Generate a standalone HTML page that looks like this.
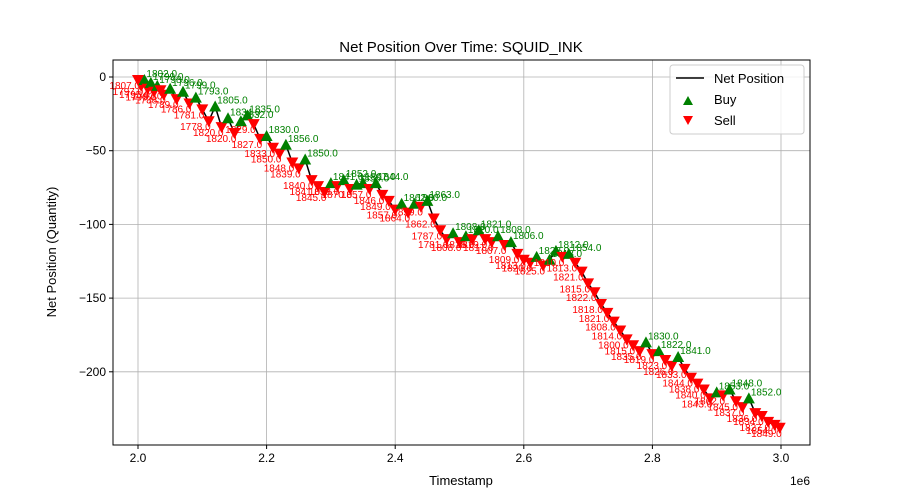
<!DOCTYPE html>
<html><head><meta charset="utf-8"><style>
body{margin:0;background:#fff;}
svg{display:block;font-family:"Liberation Sans","DejaVu Sans",sans-serif;}
</style></head><body>
<svg id="chart" width="900" height="500"></svg>
<script>
const times=[2.000,2.005,2.010,2.015,2.020,2.025,2.030,2.035,2.040,2.050,2.060,2.070,2.080,2.090,2.100,2.110,2.120,2.130,2.140,2.150,2.160,2.170,2.180,2.190,2.200,2.210,2.220,2.230,2.240,2.250,2.260,2.270,2.280,2.290,2.300,2.310,2.320,2.330,2.340,2.350,2.360,2.370,2.380,2.390,2.400,2.410,2.420,2.430,2.440,2.450,2.460,2.470,2.480,2.490,2.500,2.510,2.520,2.530,2.540,2.550,2.560,2.570,2.580,2.590,2.600,2.610,2.620,2.630,2.640,2.650,2.660,2.670,2.680,2.690,2.700,2.710,2.720,2.730,2.740,2.750,2.760,2.770,2.780,2.790,2.800,2.810,2.820,2.830,2.840,2.850,2.860,2.870,2.880,2.890,2.900,2.910,2.920,2.930,2.940,2.950,2.960,2.970,2.980,2.990,2.998];
const positions=[-2,-6,-2,-8,-4,-10,-6,-9,-12,-8,-15,-10,-18,-14,-22,-30,-20,-34,-28,-38,-30,-26,-32,-42,-40,-48,-52,-46,-58,-62,-56,-70,-74,-78,-72,-74,-70,-76,-73,-72,-76,-72,-80,-84,-90,-86,-92,-86,-88,-84,-96,-104,-110,-106,-112,-108,-110,-104,-110,-112,-108,-114,-112,-120,-124,-126,-122,-128,-124,-118,-122,-120,-126,-132,-140,-146,-154,-160,-166,-172,-178,-182,-186,-180,-188,-186,-192,-196,-190,-198,-204,-208,-212,-218,-214,-216,-212,-220,-224,-218,-228,-230,-234,-236,-238];
const prices=["1807.0","1797.0","1802.0","1795.0","1799.0","1790.0","1798.0","1792.0","1788.0","1796.0","1789.0","1799.0","1786.0","1793.0","1781.0","1778.0","1805.0","1820.0","1834.0","1820.0","1832.0","1835.0","1829.0","1827.0","1830.0","1833.0","1850.0","1856.0","1848.0","1839.0","1850.0","1840.0","1841.0","1845.0","1841.0","1853.0","1852.0","1870.0","1855.0","1867.0","1857.0","1844.0","1846.0","1849.0","1857.0","1862.0","1864.0","1860.0","1859.0","1863.0","1862.0","1787.0","1781.0","1808.0","1808.0","1820.0","1818.0","1821.0","1819.0","1817.0","1808.0","1807.0","1806.0","1809.0","1813.0","1820.0","1822.0","1825.0","1818.0","1812.0","1810.0","1854.0","1813.0","1821.0","1815.0","1822.0","1818.0","1821.0","1808.0","1814.0","1800.0","1815.0","1835.0","1830.0","1819.0","1822.0","1823.0","1826.0","1841.0","1833.0","1844.0","1838.0","1840.0","1843.0","1853.0","1862.0","1848.0","1845.0","1837.0","1852.0","1836.0","1834.0","1827.0","1854.0","1849.0"];
const xTicks=[2.0,2.2,2.4,2.6,2.8,3.0];
const xTickLabels=["2.0","2.2","2.4","2.6","2.8","3.0"];
const yTicks=[0,-50,-100,-150,-200];
const yTickLabels=["0","\u221250","\u2212100","\u2212150","\u2212200"];

const svg=document.getElementById('chart');
const NS='http://www.w3.org/2000/svg';
const L=113,R=810,T=60,B=445;
function xs(v){return 138+(v-2.0)*643;}
function ys(v){return 77-v*1.474;}
function mk(tag,attrs,parent){const e=document.createElementNS(NS,tag);for(const k in attrs)e.setAttribute(k,attrs[k]);(parent||svg).appendChild(e);return e;}

let t=mk('text',{x:461,y:52,'text-anchor':'middle','font-size':15});
t.textContent='Net Position Over Time: SQUID_INK';



const grid=mk('g',{});


xTicks.forEach((v,i)=>{
  const x=xs(v);
  mk('line',{x1:x,x2:x,y1:T,y2:B,stroke:'#b0b0b0','stroke-width':0.8},grid);
  mk('line',{x1:x,x2:x,y1:B,y2:B+4,stroke:'#000'});
  const tx=mk('text',{x:x,y:B+17,'text-anchor':'middle','font-size':12});
  tx.textContent=xTickLabels[i];
  
  
});
yTicks.forEach((v,i)=>{
  const y=ys(v);
  mk('line',{x1:L,x2:R,y1:y,y2:y,stroke:'#b0b0b0','stroke-width':0.8},grid);
  mk('line',{x1:L-4,x2:L,y1:y,y2:y,stroke:'#000'});
  const tx=mk('text',{x:L-7,y:y+4,'text-anchor':'end','font-size':12});
  tx.textContent=yTickLabels[i];
  
  
});

let d='';
times.forEach((tv,i)=>{d+=(i?'L':'M')+xs(tv).toFixed(1)+','+ys(positions[i]).toFixed(1);});
const line=mk('path',{d:d,fill:'none',stroke:'#000','stroke-width':1.5});



const marks=mk('g',{});


times.forEach((tv,i)=>{
  const prev=i?positions[i-1]:0;
  const buy=positions[i]>prev;
  const x=xs(tv),y=ys(positions[i]);
  const pts=buy?`${x-6},${y+5} ${x+6},${y+5} ${x},${y-6}`:`${x-6},${y-5} ${x+6},${y-5} ${x},${y+6}`;
  const p=mk('polygon',{points:pts,fill:buy?'green':'red'},marks);
  
  
  const lb=buy?mk('text',{x:x+2,y:y-3,fill:'green','font-size':10},marks):mk('text',{x:x+2,y:y+9,'text-anchor':'end',fill:'red','font-size':10},marks);
  lb.textContent=prices[i];
  
  
});

const frame=mk('rect',{x:L,y:T,width:R-L,height:B-T,fill:'none',stroke:'#000','stroke-width':1});



let xl=mk('text',{x:461,y:485,'text-anchor':'middle','font-size':13});xl.textContent='Timestamp';


let off=mk('text',{x:810,y:485,'text-anchor':'end','font-size':12});off.textContent='1e6';


let yl=mk('text',{x:56,y:252,'text-anchor':'middle','font-size':13,transform:'rotate(-90 56 252)'});yl.textContent='Net Position (Quantity)';



const lg=mk('g',{});


mk('rect',{x:670,y:65,width:134,height:69,rx:3,fill:'#fff','fill-opacity':0.8,stroke:'#ccc'},lg);
mk('line',{x1:676,x2:704,y1:78,y2:78,stroke:'#000','stroke-width':1.5},lg);
let l1=mk('text',{x:714,y:83,'font-size':13},lg);l1.textContent='Net Position';


mk('polygon',{points:'683,105 693,105 688,96',fill:'green'},lg);
let l2=mk('text',{x:714,y:104,'font-size':13},lg);l2.textContent='Buy';


mk('polygon',{points:'683,116 693,116 688,125',fill:'red'},lg);
let l3=mk('text',{x:714,y:125,'font-size':13},lg);l3.textContent='Sell';


</script>
</body></html>
